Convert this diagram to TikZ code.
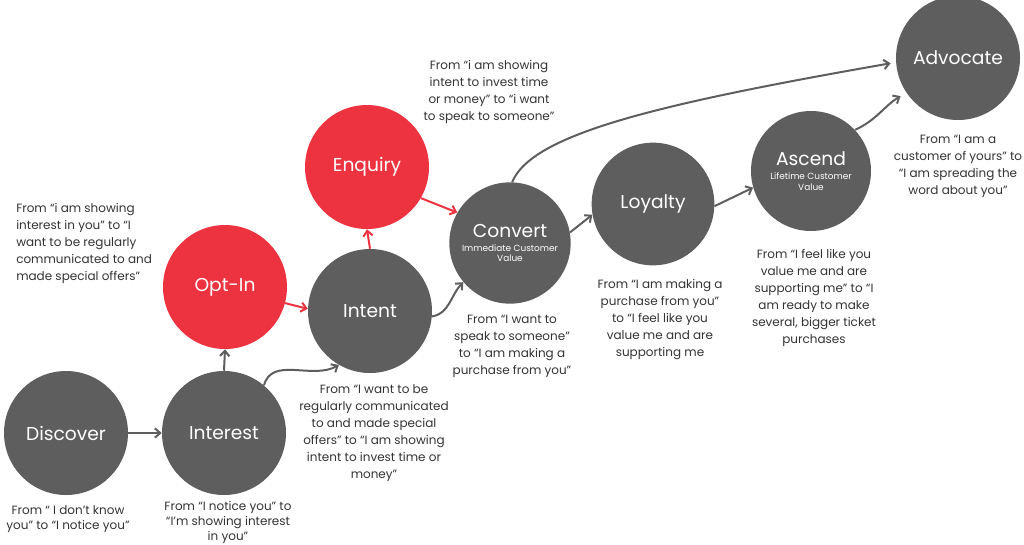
\documentclass[tikz,border=0pt]{standalone}
\usepackage{fontspec}
\setmainfont{Poppins}
\usetikzlibrary{arrows.meta}
\definecolor{cgray}{HTML}{5E5E5E}
\definecolor{cred}{HTML}{EE3340}
\definecolor{ctext}{HTML}{333333}
\newcommand\subtxt{\fontsize{6.7}{7}\selectfont}
\tikzset{
  stage/.style={circle, fill=cgray, draw=none, minimum size=#1, inner sep=0pt, text=white, align=center, font=\fontsize{14}{15}\selectfont},
  stage/.default={93pt},
  hot/.style={stage, fill=cred},
  desc/.style={align=center, text=ctext, font=\fontsize{9}{12.75}\selectfont, inner sep=0pt},
  conn/.style={draw=cgray, line width=1.5pt, -{Straight Barb[length=4pt,width=7pt]}},
  hconn/.style={conn, draw=cred}
}
\begin{document}
\begin{tikzpicture}[x=0.75pt,y=-0.75pt]
\useasboundingbox (0,0) rectangle (1024,544);
% stages
\node[stage] (discover) at (66,433) {Discover};
\node[stage] (interest) at (224,433) {Interest};
\node[hot] (optin) at (225,287) {Opt-In};
\node[stage] (intent) at (370,311) {Intent};
\node[hot] (enquiry) at (367,167) {Enquiry};
\node[stage=91pt] (convert) at (510,243) {Convert\\[-4.5pt]{\subtxt Immediate Customer}\\[-7pt]{\subtxt Value}};
\node[stage=92pt] (loyalty) at (653,204) {Loyalty};
\node[stage=90pt] (ascend) at (811,171) {Ascend\\[-4.5pt]{\subtxt Lifetime Customer}\\[-7pt]{\subtxt Value}};
\node[stage] (advocate) at (958,58) {Advocate};
% descriptions
\node[desc, font=\fontsize{9}{11.2}\selectfont] (ddiscover) at (68,519) {From “ I don't know\\you” to “I notice you”};
\node[desc, font=\fontsize{9}{11.2}\selectfont] (dinterest) at (228,522.5) {From “I notice you” to\\“I'm showing interest\\in you”};
\node[desc, align=left, anchor=north west] (doptin) at (16,203) {From “i am showing\\interest in you” to “I\\want to be regularly\\communicated to and\\made special offers”};
\node[desc] (dintent) at (374,433) {From “I want to be\\regularly communicated\\to and made special\\offers” to “I am showing\\intent to invest time or\\money”};
\node[desc] (denquiry) at (489,92) {From “i am showing\\intent to invest time\\or money” to “i want\\to speak to someone”};
\node[desc] (dconvert) at (512,346) {From “I want to\\speak to someone”\\to “I am making a\\purchase from you”};
\node[desc] (dloyalty) at (660,320) {From “I am making a\\purchase from you”\\to “I feel like you\\value me and are\\supporting me};
\node[desc] (dascend) at (814,298) {From “I feel like you\\value me and are\\supporting me” to “I\\am ready to make\\several, bigger ticket\\purchases};
\node[desc] (dadvocate) at (958,166) {From “I am a\\customer of yours” to\\“I am spreading the\\word about you”};
% connectors
\draw[conn] (discover.east) -- (interest.west);
\draw[conn] (interest.north) -- (optin.south);
\draw[conn] (interest.50) to[out=75,in=210] (intent.240);
\draw[hconn] (optin.-15) -- (intent.178);
\draw[hconn] (intent.north) -- (enquiry.south);
\draw[hconn] (enquiry.-30) -- (convert.150);
\draw[conn] (intent.-5) to[out=10,in=225] (convert.220);
\draw[conn] (convert.10) -- (loyalty.190);
\draw[conn] (loyalty.-2) -- (ascend.196);
\draw[conn, shorten >=5pt] (ascend.43) to[out=25,in=210] (advocate.214);
\draw[conn, shorten >=4pt] (convert.88) .. controls +(20,-48) and +(-240,42) .. (advocate.184);
\end{tikzpicture}
\end{document}
